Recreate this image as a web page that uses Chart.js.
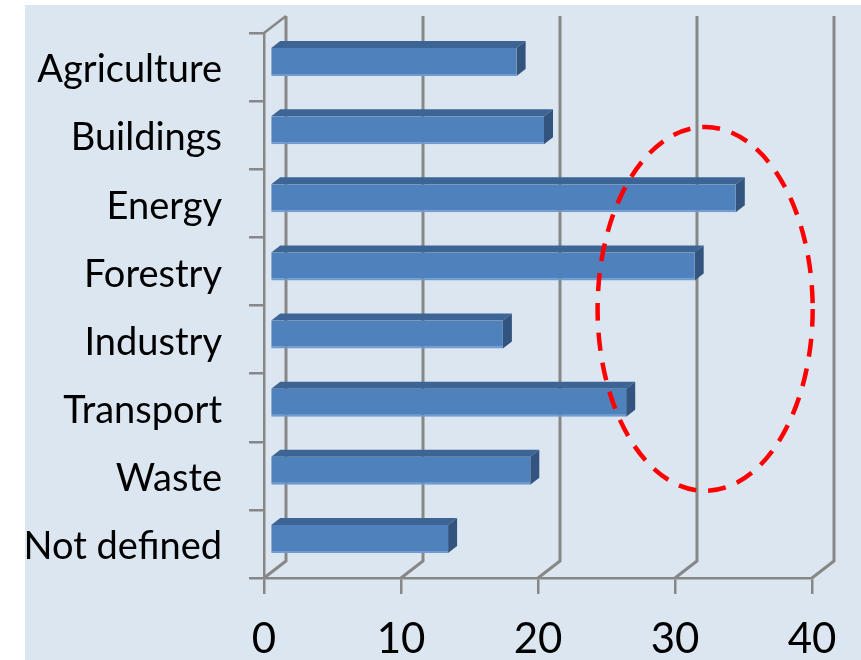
<!DOCTYPE html>
<html>
<head>
<meta charset="utf-8">
<script src="https://cdn.jsdelivr.net/npm/chart.js@4.4.1/dist/chart.umd.min.js"></script>
<style>
html,body{margin:0;padding:0;background:#ffffff;}
#wrap{width:861px;height:660px;}
</style>
</head>
<body>
<div id="wrap"><canvas id="c" width="861" height="660"></canvas></div>
<script>
// ---- data ----
const categories = ['Agriculture', 'Buildings', 'Energy', 'Forestry', 'Industry', 'Transport', 'Waste', 'Not defined'];
const shares = [18, 20, 34, 31, 17, 26, 19, 13];
const xTickValues = [0, 10, 20, 30, 40];
// highlighted region (value units / category index units)
const highlightCenter = [32.2, 3.55];
const highlightRadius = [7.85, 2.67];

// ---- styling ----
const GRID = '#878787';
const WALL = {dx: 22, dy: -17};     // back-wall offset
const BAR_PLANE = {dx: 6, dy: -5};  // bar plane offset from front plane
const BAR_DEPTH = {dx: 9, dy: -7};

const backgroundPlugin = {
  id: 'bg',
  beforeDraw(chart) {
    const ctx = chart.ctx;
    ctx.save();
    ctx.fillStyle = '#dce6f1';
    ctx.fillRect(25, 5, chart.width - 25, chart.height - 5);
    ctx.restore();
  }
};

const wallPlugin = {
  id: 'wall',
  beforeDatasetsDraw(chart) {
    const ctx = chart.ctx, xs = chart.scales.x, a = chart.chartArea;
    ctx.save();
    ctx.strokeStyle = GRID;
    ctx.lineWidth = 3;
    ctx.lineCap = 'butt';
    xTickValues.forEach(v => {
      const px = xs.getPixelForValue(v);
      ctx.beginPath();
      ctx.moveTo(px, a.bottom);
      ctx.lineTo(px + WALL.dx, a.bottom + WALL.dy);
      ctx.lineTo(px + WALL.dx, a.top + WALL.dy);
      ctx.stroke();
    });
    ctx.lineWidth = 2.5;
    ctx.beginPath();
    ctx.moveTo(a.left, a.top);
    ctx.lineTo(a.left + WALL.dx, a.top + WALL.dy);
    ctx.stroke();
    ctx.restore();
    ctx.save();
    ctx.translate(BAR_PLANE.dx, BAR_PLANE.dy);
  },
  afterDatasetsDraw(chart) {
    const ctx = chart.ctx;
    const meta = chart.getDatasetMeta(0);
    meta.data.forEach(el => {
      const p = el.getProps(['x', 'y', 'base', 'height'], true);
      const x0 = p.base, x1 = p.x, yT = p.y - p.height / 2, yB = p.y + p.height / 2;
      const dx = BAR_DEPTH.dx, dy = BAR_DEPTH.dy;
      ctx.fillStyle = '#3c6595';
      ctx.beginPath();
      ctx.moveTo(x0, yT);
      ctx.lineTo(x0 + dx, yT + dy);
      ctx.lineTo(x1 + dx, yT + dy);
      ctx.lineTo(x1, yT);
      ctx.closePath();
      ctx.fill();
      ctx.fillStyle = '#33547f';
      ctx.beginPath();
      ctx.moveTo(x1, yT);
      ctx.lineTo(x1 + dx, yT + dy);
      ctx.lineTo(x1 + dx, yB + dy);
      ctx.lineTo(x1, yB);
      ctx.closePath();
      ctx.fill();
    });
    ctx.restore();
  }
};

const highlightPlugin = {
  id: 'highlight',
  afterDraw(chart) {
    const ctx = chart.ctx, xs = chart.scales.x, ys = chart.scales.y;
    const cx = xs.getPixelForValue(highlightCenter[0]);
    const cy = ys.getPixelForValue(highlightCenter[1]);
    const rx = xs.getPixelForValue(highlightCenter[0] + highlightRadius[0]) - cx;
    const ry = ys.getPixelForValue(highlightCenter[1] + highlightRadius[1]) - cy;
    ctx.save();
    ctx.strokeStyle = '#ff0000';
    ctx.lineWidth = 4.5;
    ctx.setLineDash([18, 12]);
    ctx.beginPath();
    ctx.ellipse(cx, cy, Math.abs(rx), Math.abs(ry), 0, 0, Math.PI * 2);
    ctx.stroke();
    ctx.restore();
  }
};

new Chart(document.getElementById('c'), {
  type: 'bar',
  data: {
    labels: categories,
    datasets: [{
      data: shares,
      backgroundColor: '#4f81bd',
      borderColor: '#6f9bd2',
      borderWidth: {top: 0, right: 0, bottom: 2, left: 0},
      borderSkipped: false,
      barPercentage: 0.41,
      categoryPercentage: 1
    }]
  },
  options: {
    indexAxis: 'y',
    responsive: false,
    animation: false,
    layout: {padding: {top: 33, right: 49, bottom: 0, left: 0}},
    plugins: {legend: {display: false}, tooltip: {enabled: false}},
    scales: {
      x: {
        min: 0, max: 40,
        afterBuildTicks(scale) { scale.ticks = xTickValues.map(v => ({value: v})); },
        afterFit(scale) { scale.height = 82; scale.paddingTop = 0; scale.paddingBottom = 0; },
        grid: {drawOnChartArea: false, drawTicks: true, tickLength: 16, color: GRID, lineWidth: 2.5},
        border: {display: true, color: GRID, width: 2.5},
        ticks: {color: '#000000', font: {family: 'Lato', size: 42}, padding: 20, maxRotation: 0}
      },
      y: {
        afterFit(scale) { scale.width = 264; scale.paddingTop = 0; scale.paddingBottom = 0; },
        grid: {drawOnChartArea: false, drawTicks: true, tickLength: 15, color: GRID, lineWidth: 2.5, offset: true},
        border: {display: true, color: GRID, width: 2.5},
        ticks: {color: '#000000', font: {family: 'Lato', size: 38}, padding: 27, labelOffset: 3}
      }
    }
  },
  plugins: [backgroundPlugin, wallPlugin, highlightPlugin]
});
</script>
</body>
</html>
